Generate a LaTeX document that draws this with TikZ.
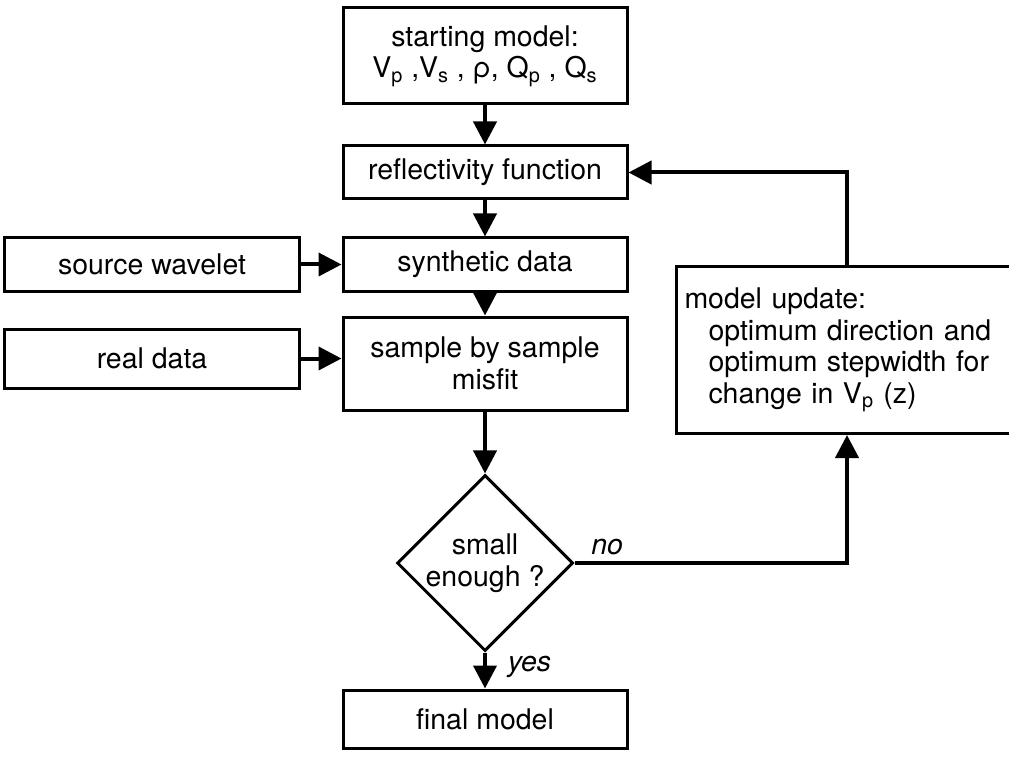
\documentclass[tikz,border=0pt]{standalone}
\usepackage{fontspec}
\setmainfont{TeX Gyre Heros}
\usetikzlibrary{shapes.geometric, arrows.meta, positioning}
\newcommand{\boxfont}{\fontsize{16.2}{18}\selectfont}
\tikzset{
  mainbox/.style={rectangle, draw=black, line width=0.06cm, minimum width=5.68cm,
    align=center, inner sep=0pt},
  sidebox/.style={rectangle, draw=black, line width=0.06cm, minimum width=5.88cm,
    align=center, inner sep=0pt},
  updbox/.style={rectangle, draw=black, line width=0.06cm, text width=7.0cm,
    minimum height=3.34cm, align=left, inner xsep=0.16cm, anchor=north west},
  decision/.style={diamond, draw=black, line width=0.06cm, aspect=1,
    minimum width=3.52cm, minimum height=3.52cm, inner sep=-1pt, align=center},
  arrow/.style={-{Triangle[length=0.46cm, width=0.46cm]}, line width=0.08cm, color=black},
  tag/.style={font=\boxfont\itshape},
}

\begin{document}
\begin{tikzpicture}[font=\boxfont, node distance=0.8cm]
  \useasboundingbox (0,0) rectangle (20.18,-15.16);

  % Main column
  \node[mainbox, minimum height=1.92cm] (start) at (9.70,-1.12)
    {starting model:\\V\textsubscript{p} ,V\textsubscript{s} , ρ, Q\textsubscript{p} , Q\textsubscript{s}};
  \node[mainbox, minimum height=1.06cm, below=0.78cm of start] (refl) {reflectivity function};
  \node[mainbox, minimum height=1.06cm, below=0.72cm of refl]  (synth) {synthetic data};
  \node[mainbox, minimum height=1.86cm, below=0.46cm of synth] (misfit) {sample by sample\\misfit};
  \node[decision, below=1.24cm of misfit] (check) {small\\enough ?};
  \node[mainbox, minimum height=1.16cm, below=0.72cm of check] (final) {final model};

  % Inputs on the left
  \node[sidebox, minimum height=1.06cm, left=0.82cm of synth]  (wavelet) {source wavelet};
  \node[sidebox, minimum height=1.18cm, left=0.82cm of misfit, yshift=0.1cm] (real) {real data};

  % Update loop on the right
  \node[updbox] (update) at (13.5,-5.3)
    {model update:\\
     \hspace*{0.48cm}optimum direction and\\
     \hspace*{0.48cm}optimum stepwidth for\\
     \hspace*{0.48cm}change in V\textsubscript{p} (z)};
  \coordinate (loopx) at (16.94,0);

  % Arrows
  \draw[arrow] (start)--(refl);
  \draw[arrow] (refl)--(synth);
  \draw[arrow] (synth)--(misfit);
  \draw[arrow] (misfit)--(check);
  \draw[arrow] (check)--node[tag, right, pos=0.4, xshift=0.3cm]{yes}(final);
  \draw[arrow] (wavelet)--(synth);
  \draw[arrow] (real)--(misfit.west |- real.east);
  \draw[arrow] (check.east) -| node[tag, above, pos=0.06]{no} (loopx |- update.south);
  \draw[arrow] (loopx |- update.north) |- (refl.east);
\end{tikzpicture}
\end{document}
